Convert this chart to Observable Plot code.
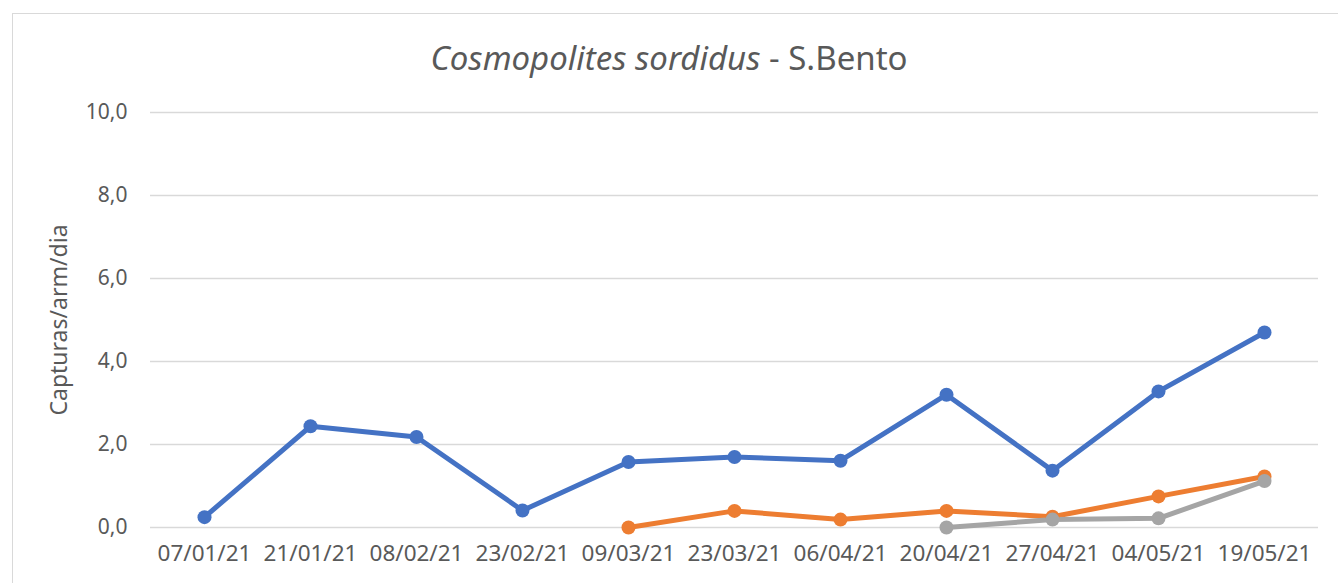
<!DOCTYPE html>
<html>
<head>
<meta charset="utf-8">
<script src="https://cdn.jsdelivr.net/npm/d3@7"></script>
<script src="https://cdn.jsdelivr.net/npm/@observablehq/plot@0.6"></script>
<style>
  html, body { margin: 0; padding: 0; background: #fff; }
  #wrap { position: relative; width: 1338px; height: 583px; overflow: hidden; font-family: "Noto Sans", sans-serif; }
  #frame { position: absolute; left: 12px; top: 13px; width: 1400px; height: 700px; border: 1px solid #d9d9d9; box-sizing: border-box; pointer-events: none; }
  #title { height: 40px; padding-top: 40px; line-height: 36px; text-align: center; font-size: 33px; color: #595959; white-space: nowrap; }
  #chart svg { display: block; }
</style>
</head>
<body>
<div id="wrap">
  <div id="frame"></div>
  <div id="title"><i>Cosmopolites sordidus</i> - S.Bento</div>
  <div id="chart"></div>
</div>
<script>
const dates = ["07/01/21","21/01/21","08/02/21","23/02/21","09/03/21","23/03/21","06/04/21","20/04/21","27/04/21","04/05/21","19/05/21"];
const seriesNames = ["Série1", "Série2", "Série3"];
const seriesColors = ["#4472C4", "#ED7D31", "#A5A5A5"];
const serie1 = [0.25, 2.44, 2.18, 0.41, 1.58, 1.70, 1.61, 3.20, 1.37, 3.28, 4.70];
const serie2 = [null, null, null, null, 0.00, 0.40, 0.19, 0.40, 0.26, 0.75, 1.23];
const serie3 = [null, null, null, null, null, null, null, 0.00, 0.19, 0.22, 1.12];
const yTicks = [0, 2, 4, 6, 8, 10];

const allSeries = [serie1, serie2, serie3];
const rows = [];
allSeries.forEach((vals, si) => {
  vals.forEach((v, i) => {
    if (v !== null) rows.push({date: dates[i], value: v, serie: seriesNames[si]});
  });
});

const fmt = d => d.toFixed(1).replace(".", ",");

const plot = Plot.plot({
  width: 1338,
  height: 503,
  marginLeft: 150,
  marginRight: 20,
  marginTop: 32,
  marginBottom: 56,
  style: {fontFamily: "Noto Sans, sans-serif", color: "#595959", background: "transparent"},
  x: {type: "point", domain: dates, padding: 0.5},
  y: {domain: [0, 10]},
  color: {domain: seriesNames, range: seriesColors},
  marks: [
    Plot.gridY(yTicks, {stroke: "#d9d9d9", strokeOpacity: 1, strokeWidth: 1.5}),
    Plot.axisY(yTicks, {tickSize: 0, tickPadding: 23, tickFormat: fmt, fontSize: 21, fill: "#595959",
      label: "Capturas/arm/dia", labelAnchor: "center", labelArrow: "none", labelOffset: 100}),
    Plot.axisX({tickSize: 0, tickPadding: 18, fontSize: 22.5, fill: "#595959", label: null}),
    Plot.line(rows, {x: "date", y: "value", z: "serie", stroke: "serie", strokeWidth: 5, strokeLinejoin: "round", strokeLinecap: "round"}),
    Plot.dot(rows, {x: "date", y: "value", fill: "serie", r: 7, stroke: "none"})
  ]
});
plot.querySelectorAll("g[aria-label='y-axis label'] text").forEach(t => t.setAttribute("font-size", "23"));
document.getElementById("chart").appendChild(plot);
</script>
</body>
</html>
